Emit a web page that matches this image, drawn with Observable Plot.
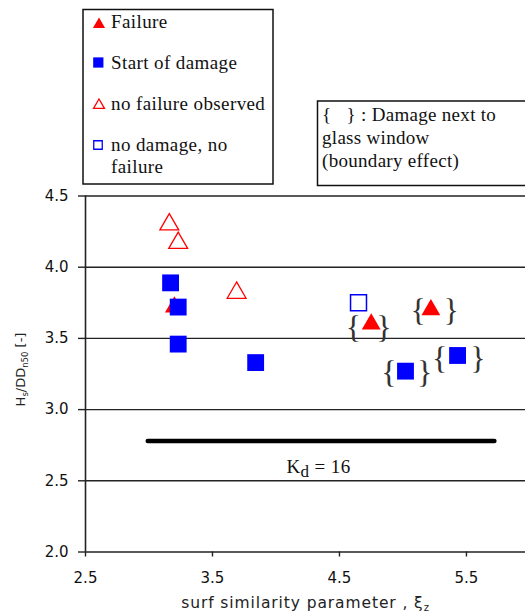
<!DOCTYPE html>
<html><head><meta charset="utf-8">
<script src="https://cdn.jsdelivr.net/npm/d3@7"></script>
<script src="https://cdn.jsdelivr.net/npm/@observablehq/plot@0.6"></script>
<style>
html,body{margin:0;padding:0;background:#fff;overflow:hidden;}
#wrap{position:relative;width:525px;height:616px;}
#wrap svg{position:absolute;left:0;top:0;}
</style></head><body><div id="wrap"></div>
<script>
// ---- data ----
const failureX = [3.20, 4.75, 5.22];
const failureY = [3.72, 3.60, 3.70];
const damageX = [3.17, 3.23, 3.23, 3.84, 5.02, 5.43];
const damageY = [3.89, 3.72, 3.46, 3.33, 3.27, 3.38];
const noFailureX = [3.16, 3.23, 3.69];
const noFailureY = [4.30, 4.17, 3.82];
const noDamageX = [4.65];
const noDamageY = [3.75];
// braces "{ }" marking damage next to the glass window
const braceOpenX = [4.61, 5.12, 4.89, 5.29];
const braceCloseX = [4.85, 5.38, 5.17, 5.59];
const braceY = [3.59, 3.71, 3.27, 3.37];
// Kd = 16 line
const kdLineX = [2.99, 5.72];
const kdLineY = 2.78;
const kdLabelPos = [4.335, 2.60];
const xTicks = [2.5, 3.5, 4.5, 5.5];
const yTicks = [2.0, 2.5, 3.0, 3.5, 4.0, 4.5];
const xDomain = [2.5, 5.965];
const yDomain = [2.0, 4.5];
const legendLabels = [["Failure"], ["Start of damage"], ["no failure observed"], ["no damage, no", "failure"]];
const noteLines = ["{   } : Damage next to", "glass window", "(boundary effect)"];
const kdText = "Kd = 16";
const yLabel = "Hs/DDn50 [-]";
const xLabel = "surf similarity parameter, ξz";

const pts = (xs, ys) => xs.map((x, i) => ({x, y: ys[i]}));
const serif = "'Liberation Serif', 'Times New Roman', serif";
const sans = "'DejaVu Sans', Verdana, sans-serif";

const plot = Plot.plot({
  width: 525, height: 616,
  marginLeft: 85, marginRight: 0, marginTop: 195.5, marginBottom: 64.5,
  style: {fontFamily: sans, background: "white", color: "#111", overflow: "visible"},
  x: {domain: xDomain},
  y: {domain: yDomain},
  marks: [
    Plot.gridY(yTicks, {stroke: "#222", strokeOpacity: 1, strokeWidth: 1.4}),
    Plot.ruleX([xDomain[0]], {stroke: "#222", strokeWidth: 1.6}),
    Plot.axisY(yTicks, {tickSize: 7, tickPadding: 10, tickFormat: d3.format(".1f"), fontSize: 15, label: null, stroke: "#222", strokeWidth: 1.4}),
    Plot.axisX(xTicks, {tickSize: 5, tickPadding: 15, tickFormat: d3.format(".1f"), fontSize: 15, label: null, stroke: "#222", strokeWidth: 1.4}),
    Plot.line(kdLineX.map(x => ({x, y: kdLineY})), {x: "x", y: "y", stroke: "#000", strokeWidth: 4.5, strokeLinecap: "round"}),
    Plot.dot(pts(noFailureX, noFailureY), {x: "x", y: "y", symbol: "triangle", r: 7, fill: "none", stroke: "#ff0000", strokeWidth: 1.3}),
    Plot.dot(pts(failureX, failureY), {x: "x", y: "y", symbol: "triangle", r: 7, fill: "#ff0000", stroke: "none"}),
    Plot.dot(pts(damageX, damageY), {x: "x", y: "y", symbol: "square", r: 9.5, fill: "#0000ff", stroke: "none"}),
    Plot.dot(pts(noDamageX, noDamageY), {x: "x", y: "y", symbol: "square", r: 9, fill: "none", stroke: "#0000ff", strokeWidth: 1.5}),
    Plot.text(pts(braceOpenX, braceY), {x: "x", y: "y", text: () => "{", fontSize: 32, fontFamily: serif, fill: "#333", dy: 2}),
    Plot.text(pts(braceCloseX, braceY), {x: "x", y: "y", text: () => "}", fontSize: 32, fontFamily: serif, fill: "#333", dy: 2}),
    Plot.text([{x: kdLabelPos[0], y: kdLabelPos[1]}], {x: "x", y: "y", text: () => kdText, fontSize: 19, fontFamily: serif, fill: "#111"}),
    Plot.text([yLabel], {frameAnchor: "left", textAnchor: "middle", dx: -65, dy: -4.5, rotate: -90, text: d => d, fontSize: 13, fill: "#222"}),
    Plot.text([xLabel], {frameAnchor: "bottom", textAnchor: "middle", dy: 56, text: d => d, fontSize: 15.5, fill: "#222"})
  ]
});
document.getElementById("wrap").appendChild(plot);

// subscripts
function rich(content, parts, subSize, shift) {
  const sel = d3.select(plot).selectAll("text").filter(function () { return this.textContent === content; });
  sel.text(null);
  let down = false;
  parts.forEach(([t, sub]) => {
    const ts = sel.append("tspan").text(t);
    if (sub && !down) { ts.attr("dy", shift).attr("font-size", subSize); down = true; }
    else if (!sub && down) { ts.attr("dy", -shift); down = false; }
    else if (sub) ts.attr("font-size", subSize);
  });
  return sel;
}
rich(kdText, [["K"], ["d", true], [" = 16"]], 17, 4.5).attr("letter-spacing", 0.4);
rich(yLabel, [["H"], ["s", true], ["/DD"], ["n50", true], [" [-]"]], 8.5, 3);
rich(xLabel, [["surf similarity parameter , ξ"], ["z", true]], 10, 3).attr("letter-spacing", 0.9);

// legend overlay
const leg = d3.create("svg").attr("width", 525).attr("height", 195).style("overflow", "hidden");
leg.append("rect").attr("x", 83).attr("y", 9.5).attr("width", 190).attr("height", 174.5)
  .attr("fill", "white").attr("stroke", "#111").attr("stroke-width", 1.5);
const symRows = [
  {type: d3.symbolTriangle, size: 64, fill: "#ff0000", stroke: "none", cx: 99, cy: 24.5, base: [28]},
  {type: d3.symbolSquare, size: 105, fill: "#0000ff", stroke: "none", cx: 98.3, cy: 62.5, base: [68.5]},
  {type: d3.symbolTriangle, size: 52, fill: "none", stroke: "#ff0000", cx: 99, cy: 105.3, base: [109.5]},
  {type: d3.symbolSquare, size: 72, fill: "none", stroke: "#0000ff", cx: 98, cy: 145, base: [150.5, 172.5]}
];
symRows.forEach((r, i) => {
  leg.append("path").attr("d", d3.symbol(r.type, r.size)()).attr("transform", `translate(${r.cx},${r.cy})`)
    .attr("fill", r.fill).attr("stroke", r.stroke).attr("stroke-width", 1.3);
  legendLabels[i].forEach((t, j) => {
    leg.append("text").attr("x", 111).attr("y", r.base[j]).attr("font-family", serif).attr("font-size", 19)
      .attr("letter-spacing", 0.4).attr("fill", "#111").text(t);
  });
});
leg.append("rect").attr("x", 317.5).attr("y", 101).attr("width", 300).attr("height", 84.5)
  .attr("fill", "white").attr("stroke", "#111").attr("stroke-width", 1.5);
noteLines.forEach((t, j) => {
  leg.append("text").attr("x", 322).attr("y", 120.5 + j * 23).attr("font-family", serif).attr("font-size", 19)
    .attr("letter-spacing", 0.3).attr("fill", "#111").style("white-space", "pre").text(t);
});
document.getElementById("wrap").appendChild(leg.node());
</script></body></html>
